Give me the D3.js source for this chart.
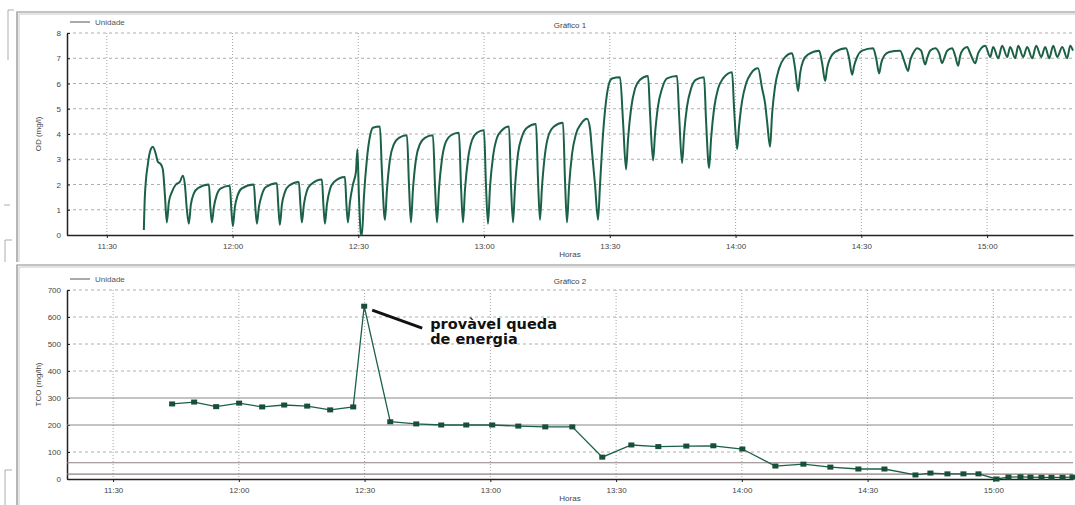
<!DOCTYPE html>
<html>
<head>
<meta charset="utf-8">
<script src="https://cdn.jsdelivr.net/npm/d3@7"></script>
<style>
  body { margin: 0; background: #fff; }
  svg { display: block; font-family: 'Liberation Sans', Arial, sans-serif; }
  .tick text { fill: #444; font-size: 8px; }
  .axis path, .axis line { stroke: #222; }
</style>
</head>
<body>
<svg id="chart" width="1075" height="505"></svg>
<script>
const width = 1075
const height = 505

// Gráfico 1 - OD (mg/l), [hora, valor]
const odData = [
  ['11:38:50', 0.2], ['11:39:04', 1.5], ['11:39:47', 2.8], ['11:40:30', 3.4], ['11:40:59', 3.5],
  ['11:41:42', 3.2], ['11:42:10', 2.9], ['11:42:53', 2.8], ['11:43:22', 2.6], ['11:43:51', 1.6],
  ['11:44:19', 0.5], ['11:44:48', 1.3], ['11:45:31', 1.7], ['11:46:28', 2.0], ['11:47:25', 2.1],
  ['11:48:08', 2.35], ['11:48:37', 2.0], ['11:49:06', 1.0], ['11:49:34', 0.45],
  ['11:50:03', 1.2], ['11:50:46', 1.65], ['11:51:43', 1.85], ['11:54:21', 2.0], ['11:54:42', 1.1], ['11:55:04', 0.5],
  ['11:55:32', 1.1], ['11:56:15', 1.6], ['11:57:12', 1.85], ['11:59:21', 1.95], ['11:59:43', 1.0], ['12:00:04', 0.35],
  ['12:00:33', 1.1], ['12:01:16', 1.6], ['12:02:13', 1.85], ['12:05:05', 2.0], ['12:05:26', 1.1], ['12:05:48', 0.45],
  ['12:06:17', 1.1], ['12:07:00', 1.6], ['12:07:57', 1.9], ['12:10:34', 2.05], ['12:10:56', 1.1], ['12:11:17', 0.4],
  ['12:11:46', 1.2], ['12:12:29', 1.7], ['12:13:26', 1.95], ['12:15:49', 2.1], ['12:16:11', 1.2], ['12:16:32', 0.5],
  ['12:17:01', 1.2], ['12:17:44', 1.75], ['12:18:41', 2.0], ['12:21:19', 2.2], ['12:21:40', 1.2], ['12:22:02', 0.45],
  ['12:22:30', 1.2], ['12:23:13', 1.8], ['12:24:11', 2.1], ['12:26:48', 2.3], ['12:27:10', 1.2], ['12:27:31', 0.5],
  ['12:28:00', 1.3], ['12:28:43', 2.0], ['12:29:26', 2.5], ['12:29:47', 3.4], ['12:30:09', 1.5], ['12:30:37', 0.05], ['12:30:52', 0.0],
  ['12:31:20', 1.5], ['12:32:03', 3.0], ['12:32:46', 3.9], ['12:33:29', 4.25], ['12:35:09', 4.3], ['12:35:38', 2.5], ['12:36:21', 0.6],
  ['12:36:50', 1.8], ['12:37:33', 3.0], ['12:38:30', 3.6], ['12:39:41', 3.85], ['12:41:36', 3.95], ['12:42:05', 2.0], ['12:42:33', 0.5],
  ['12:43:02', 1.8], ['12:43:45', 3.0], ['12:44:42', 3.6], ['12:45:54', 3.85], ['12:47:48', 3.95], ['12:48:17', 2.0], ['12:48:46', 0.5],
  ['12:49:14', 1.8], ['12:49:57', 3.0], ['12:50:54', 3.7], ['12:52:06', 3.95], ['12:54:01', 4.05], ['12:54:29', 2.0], ['12:54:58', 0.5],
  ['12:55:27', 1.8], ['12:56:10', 3.0], ['12:57:07', 3.75], ['12:58:18', 4.05], ['12:59:59', 4.15], ['13:00:27', 2.0], ['13:00:56', 0.45],
  ['13:01:25', 1.9], ['13:02:08', 3.1], ['13:03:05', 3.85], ['13:04:16', 4.15], ['13:05:57', 4.3], ['13:06:25', 2.0], ['13:06:54', 0.5],
  ['13:07:23', 1.9], ['13:08:05', 3.2], ['13:09:03', 3.9], ['13:10:14', 4.25], ['13:12:23', 4.4], ['13:12:52', 2.2], ['13:13:20', 0.6],
  ['13:13:49', 1.9], ['13:14:32', 3.2], ['13:15:29', 4.0], ['13:16:41', 4.3], ['13:18:50', 4.45], ['13:19:18', 2.2], ['13:19:47', 0.5],
  ['13:20:16', 1.9], ['13:20:59', 3.2], ['13:21:56', 4.0], ['13:23:08', 4.4], ['13:24:34', 4.6], ['13:25:17', 4.2], ['13:25:45', 3.3],
  ['13:26:28', 2.0], ['13:27:11', 0.6],
  ['13:27:40', 2.0], ['13:28:23', 4.0], ['13:29:06', 5.3], ['13:29:49', 6.0], ['13:30:32', 6.2], ['13:32:26', 6.25], ['13:33:09', 4.5], ['13:33:52', 2.6],
  ['13:34:21', 3.8], ['13:35:04', 5.0], ['13:36:01', 5.8], ['13:37:13', 6.15], ['13:39:07', 6.3], ['13:39:36', 4.8], ['13:40:19', 2.95],
  ['13:40:47', 4.0], ['13:41:30', 5.1], ['13:42:28', 5.8], ['13:43:39', 6.2], ['13:46:02', 6.3], ['13:46:31', 4.8], ['13:47:14', 2.85],
  ['13:47:43', 4.0], ['13:48:26', 5.1], ['13:49:23', 5.8], ['13:50:34', 6.15], ['13:52:29', 6.25], ['13:52:58', 4.5], ['13:53:41', 2.65],
  ['13:54:09', 3.8], ['13:54:52', 5.0], ['13:55:50', 5.8], ['13:57:01', 6.2], ['13:59:10', 6.45], ['13:59:39', 5.0], ['14:00:22', 3.4],
  ['14:00:50', 4.3], ['14:01:33', 5.3], ['14:02:30', 6.0], ['14:03:42', 6.4], ['14:05:22', 6.6], ['14:06:20', 5.8], ['14:07:03', 5.2],
  ['14:07:31', 4.5], ['14:08:14', 3.5],
  ['14:08:43', 4.8], ['14:09:26', 5.9], ['14:10:23', 6.6], ['14:11:35', 7.0], ['14:13:29', 7.2], ['14:14:12', 6.6], ['14:14:55', 5.7],
  ['14:15:24', 6.4], ['14:16:07', 6.9], ['14:17:18', 7.15], ['14:19:56', 7.3], ['14:20:39', 6.8], ['14:21:22', 6.1],
  ['14:21:50', 6.6], ['14:22:33', 7.0], ['14:23:45', 7.25], ['14:26:22', 7.4], ['14:27:05', 7.0], ['14:27:48', 6.35],
  ['14:28:17', 6.7], ['14:29:00', 7.05], ['14:30:12', 7.3], ['14:32:49', 7.4], ['14:33:32', 7.0], ['14:34:15', 6.4],
  ['14:34:44', 6.8], ['14:35:27', 7.1], ['14:36:38', 7.25], ['14:39:16', 7.3], ['14:40:13', 6.9], ['14:41:10', 6.5],
  ['14:41:39', 6.9], ['14:42:22', 7.2], ['14:43:19', 7.4], ['14:44:16', 7.3], ['14:45:14', 6.75],
  ['14:45:42', 7.0], ['14:46:25', 7.3], ['14:47:37', 7.4], ['14:48:34', 7.2], ['14:49:17', 6.8],
  ['14:49:46', 7.0], ['14:50:29', 7.3], ['14:51:40', 7.4], ['14:52:23', 7.1], ['14:53:06', 6.7],
  ['14:53:35', 7.1], ['14:54:18', 7.35], ['14:55:15', 7.45], ['14:55:58', 7.2], ['14:57:10', 6.8],
  ['14:57:53', 7.2], ['14:59:33', 7.5], ['15:00:45', 7.05], ['15:01:28', 7.45], ['15:02:39', 7.0], ['15:03:36', 7.5],
  ['15:04:48', 7.05], ['15:05:31', 7.45], ['15:06:43', 7.0], ['15:07:26', 7.5], ['15:08:37', 7.05], ['15:09:34', 7.45],
  ['15:10:46', 7.0], ['15:11:43', 7.5], ['15:12:55', 7.05], ['15:13:52', 7.45], ['15:14:49', 7.0], ['15:15:47', 7.5],
  ['15:16:44', 7.05], ['15:17:56', 7.45], ['15:19:07', 7.0], ['15:19:50', 7.5], ['15:20:30', 7.3]
]

// Gráfico 2 - TCO, [hora, valor]
const tcoData = [
  ['11:44:05', 278], ['11:49:20', 285], ['11:54:35', 268], ['12:00:04', 281], ['12:05:34', 267],
  ['12:10:49', 274], ['12:16:18', 270], ['12:21:47', 256], ['12:27:17', 267], ['12:29:54', 640],
  ['12:36:07', 212], ['12:42:19', 204], ['12:48:17', 200], ['12:54:15', 200], ['13:00:27', 200],
  ['13:06:40', 196], ['13:13:06', 193], ['13:19:33', 193], ['13:26:42', 81], ['13:33:38', 126],
  ['13:40:04', 120], ['13:46:45', 122], ['13:53:12', 123], ['14:00:07', 111], ['14:08:00', 48],
  ['14:14:41', 55], ['14:21:07', 44], ['14:27:48', 37], ['14:34:01', 37], ['14:41:25', 15],
  ['14:44:59', 22], ['14:49:03', 19], ['14:52:52', 19], ['14:56:27', 19], ['15:00:45', 0],
  ['15:03:36', 7], ['15:06:28', 8], ['15:08:51', 7], ['15:11:29', 6], ['15:13:52', 6],
  ['15:16:30', 6], ['15:18:53', 7]
]

const tcoLimits = [300, 200, 60, 18]
const timeTicks = ['11:30:00', '12:00:00', '12:30:00', '13:00:00', '13:30:00', '14:00:00', '14:30:00', '15:00:00']
const odTicks = [0, 1, 2, 3, 4, 5, 6, 7, 8]
const tcoTicks = [0, 100, 200, 300, 400, 500, 600, 700]

const parseTime = d3.timeParse('%H:%M:%S')
const fmt = d3.timeFormat('%H:%M')
const green = '#1a6146'

const svg = d3.select('#chart')
svg.append('rect').attr('width', width).attr('height', height).attr('fill', '#fff')

// panel frames
function frame (y0, y1) {
  const g = svg.append('g').attr('fill', 'none').attr('stroke', '#888')
  g.append('path').attr('d', `M1075,${y0}H17V${y1}`).attr('stroke-width', 1.2)
  g.append('path').attr('d', `M1075,${y0 + 2}H19V${y1}`).attr('stroke', '#bbb').attr('stroke-width', 0.8)
}
frame(12, 262)
frame(265, 505)

// left page marks
const marks = svg.append('g').attr('stroke', '#999').attr('fill', 'none').attr('stroke-width', 0.8)
marks.append('path').attr('d', 'M14,10H8V60')
marks.append('path').attr('d', 'M10,205H4')
marks.append('path').attr('d', 'M12,240H5V262')
marks.append('path').attr('d', 'M12,470H5V505')

function panel (opts) {
  const x = d3.scaleTime()
    .domain([parseTime(opts.xDomain[0]), parseTime(opts.xDomain[1])])
    .range([67, 1073])
  const y = d3.scaleLinear().domain(opts.yDomain).range([opts.bottom, opts.top])
  const g = svg.append('g')

  // grid
  g.append('g').selectAll('line').data(opts.grid).join('line')
    .attr('x1', 67).attr('x2', 1073)
    .attr('y1', d => y(d)).attr('y2', d => y(d))
    .attr('stroke', '#999').attr('stroke-dasharray', '3,3').attr('stroke-width', 0.8)
  g.append('g').selectAll('line').data(timeTicks).join('line')
    .attr('x1', d => x(parseTime(d))).attr('x2', d => x(parseTime(d)))
    .attr('y1', opts.top).attr('y2', opts.bottom)
    .attr('stroke', '#999').attr('stroke-dasharray', '1,2').attr('stroke-width', 0.9)

  // axes
  g.append('g').attr('class', 'axis')
    .attr('transform', `translate(0,${opts.bottom})`)
    .call(d3.axisBottom(x).tickValues(timeTicks.map(parseTime)).tickFormat(fmt).tickSize(3).tickSizeOuter(0))
    .call(a => a.select('.domain').attr('stroke-width', 1.5))
    .call(a => a.selectAll('.tick text').attr('dy', '1.05em'))
  g.append('g').attr('class', 'axis')
    .attr('transform', 'translate(67,0)')
    .call(d3.axisLeft(y).tickValues(opts.yTicks).tickSize(3).tickSizeOuter(0))
    .call(a => a.select('.domain').attr('stroke-width', 1.5))
    .call(a => a.selectAll('.tick line').attr('x2', 3))

  // titles
  g.append('text').attr('x', 570).attr('y', opts.titleY).attr('text-anchor', 'middle')
    .attr('font-size', 8).attr('fill', '#444').text(opts.title)
  g.append('text').attr('x', 570).attr('y', opts.bottom + 22).attr('text-anchor', 'middle')
    .attr('font-size', 8).attr('fill', '#444').text('Horas')
  g.append('text').attr('transform', `translate(41,${(opts.top + opts.bottom) / 2}) rotate(-90)`)
    .attr('text-anchor', 'middle').attr('font-size', 8).attr('fill', '#444').text(opts.yLabel)

  // legend
  g.append('line').attr('x1', 70).attr('x2', 90).attr('y1', opts.legendY).attr('y2', opts.legendY)
    .attr('stroke', '#555').attr('stroke-width', 1)
  g.append('text').attr('x', 95).attr('y', opts.legendY + 3).attr('font-size', 8).attr('fill', '#555').text('Unidade')

  return { x, y, g }
}

// Gráfico 1
const p1 = panel({
  xDomain: ['11:20:30', '15:20:30'], yDomain: [0, 8], top: 33, bottom: 235,
  grid: [1, 2, 3, 4, 5, 6, 7, 8], yTicks: odTicks, title: 'Gráfico 1', titleY: 28,
  yLabel: 'OD (mg/l)', legendY: 22
})
p1.g.append('path')
  .datum(odData)
  .attr('fill', 'none').attr('stroke', green).attr('stroke-width', 2)
  .attr('stroke-linejoin', 'round')
  .attr('d', d3.line().x(d => p1.x(parseTime(d[0]))).y(d => p1.y(d[1])).curve(d3.curveMonotoneX))

// Gráfico 2
const p2 = panel({
  xDomain: ['11:19:00', '15:19:00'], yDomain: [0, 700], top: 290, bottom: 479,
  grid: [100, 400, 500, 600, 700], yTicks: tcoTicks, title: 'Gráfico 2', titleY: 284,
  yLabel: 'TCO (mg/lh)', legendY: 279
})
p2.g.append('g').selectAll('line').data(tcoLimits).join('line')
  .attr('x1', 67).attr('x2', 1073)
  .attr('y1', d => p2.y(d)).attr('y2', d => p2.y(d))
  .attr('stroke', (d, i) => i < 2 ? '#8a8a8a' : '#8f7f7f').attr('stroke-width', 1.1)
p2.g.append('path')
  .datum(tcoData)
  .attr('fill', 'none').attr('stroke', green).attr('stroke-width', 1.3)
  .attr('d', d3.line().x(d => p2.x(parseTime(d[0]))).y(d => p2.y(d[1])))
p2.g.append('g').selectAll('rect').data(tcoData).join('rect')
  .attr('x', d => p2.x(parseTime(d[0])) - 3).attr('y', d => p2.y(d[1]) - 2.5)
  .attr('width', 6).attr('height', 5).attr('fill', '#174f38')

// annotation
const peak = tcoData[9]
const px = p2.x(parseTime(peak[0]))
const py = p2.y(peak[1])
p2.g.append('line').attr('x1', px + 8).attr('y1', py + 4).attr('x2', px + 58).attr('y2', py + 22)
  .attr('stroke', '#111').attr('stroke-width', 3)
p2.g.append('text').attr('x', px + 66).attr('y', py + 23)
  .attr('font-family', "'DejaVu Sans', sans-serif")
  .attr('font-size', 14.5).attr('font-weight', 'bold').attr('fill', '#111')
  .selectAll('tspan').data(['provàvel queda', 'de energia']).join('tspan')
  .attr('x', px + 66).attr('dy', (d, i) => i === 0 ? 0 : 15).text(d => d)
</script>
</body>
</html>
